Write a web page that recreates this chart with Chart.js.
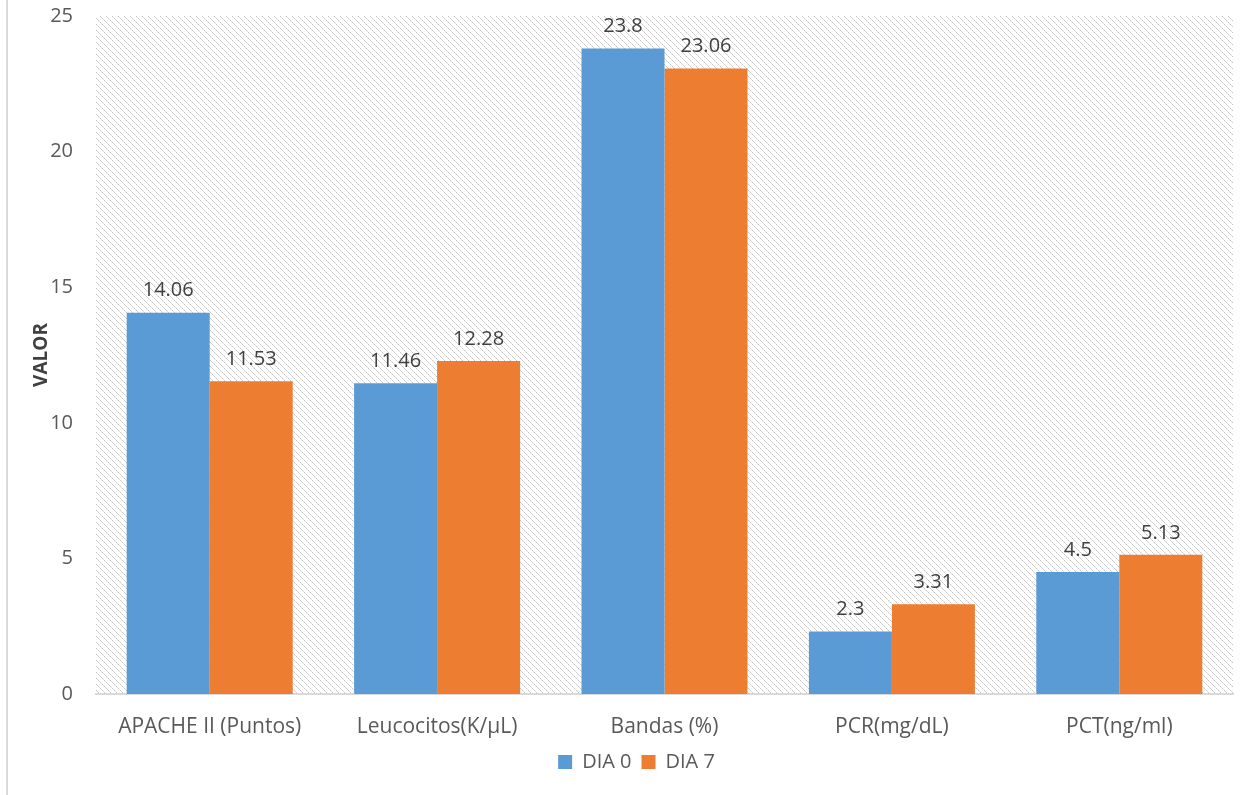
<!DOCTYPE html>
<html>
<head>
<meta charset="utf-8">
<script src="https://cdn.jsdelivr.net/npm/chart.js@4.4.1/dist/chart.umd.min.js"></script>
<style>
  html, body { margin: 0; padding: 0; background: #ffffff; }
  #wrap { position: relative; width: 1250px; height: 795px; }
  canvas { display: block; }
</style>
</head>
<body>
<div id="wrap"><canvas id="chart" width="1250" height="795"></canvas></div>
<script>
const categories = ['APACHE II (Puntos)', 'Leucocitos(K/µL)', 'Bandas (%)', 'PCR(mg/dL)', 'PCT(ng/ml)'];
const dia0 = [14.06, 11.46, 23.8, 2.3, 4.5];
const dia7 = [11.53, 12.28, 23.06, 3.31, 5.13];
const seriesNames = ['DIA 0', 'DIA 7'];
const yTicks = [0, 5, 10, 15, 20, 25];

const FONT = "'Open Sans', 'DejaVu Sans', sans-serif";
const TEXT = '#595959';

// Diagonal hatch used as the plot background
function makeHatch() {
  const size = 6;
  const c = document.createElement('canvas');
  c.width = size; c.height = size;
  const g = c.getContext('2d');
  for (let i = 0; i < size; i++) {
    g.fillStyle = (i % 2 === 0) ? '#c6c6c6' : '#dadada';
    g.fillRect(i, i, 1, 1);
  }
  return g.createPattern(c, 'repeat');
}

const hatchBackground = {
  id: 'hatchBackground',
  beforeDraw(chart) {
    const { ctx, chartArea: a } = chart;
    ctx.save();
    ctx.fillStyle = makeHatch();
    ctx.fillRect(a.left, a.top, a.right - a.left, a.bottom - a.top);
    ctx.restore();
  }
};

// Thin frame line along the left edge of the canvas
const leftEdge = {
  id: 'leftEdge',
  afterDraw(chart) {
    const ctx = chart.ctx;
    ctx.save();
    ctx.fillStyle = '#d9d9d9';
    ctx.fillRect(6, 0, 2, chart.height);
    ctx.restore();
  }
};

// Value labels above each bar
const valueLabels = {
  id: 'valueLabels',
  afterDatasetsDraw(chart) {
    const ctx = chart.ctx;
    ctx.save();
    ctx.font = '20px ' + FONT;
    ctx.fillStyle = '#404040';
    ctx.textAlign = 'center';
    ctx.textBaseline = 'bottom';
    chart.data.datasets.forEach((ds, i) => {
      chart.getDatasetMeta(i).data.forEach((bar, j) => {
        ctx.fillText(String(ds.data[j]), bar.x, bar.y - 12);
      });
    });
    ctx.restore();
  }
};

new Chart(document.getElementById('chart'), {
  type: 'bar',
  data: {
    labels: categories,
    datasets: [
      { label: seriesNames[0], data: dia0, backgroundColor: '#5b9bd5', borderWidth: 0 },
      { label: seriesNames[1], data: dia7, backgroundColor: '#ed7d31', borderWidth: 0 }
    ]
  },
  options: {
    responsive: false,
    animation: false,
    devicePixelRatio: 1,
    layout: { padding: { top: 16, right: 17, left: 40, bottom: 13 } },
    datasets: { bar: { categoryPercentage: 0.73, barPercentage: 1.0 } },
    plugins: {
      legend: {
        position: 'bottom',
        labels: {
          font: { family: FONT, size: 20 },
          color: TEXT,
          boxWidth: 14,
          boxHeight: 14,
          padding: 10
        }
      },
      tooltip: { enabled: false }
    },
    scales: {
      x: {
        grid: { display: false, drawTicks: false },
        border: { display: true, color: '#d9d9d9', width: 2 },
        ticks: { font: { family: FONT, size: 21 }, color: TEXT, padding: 20 },
        afterFit(s) { s.height = 48; }
      },
      y: {
        min: 0, max: 25,
        afterBuildTicks(s) { s.ticks = yTicks.map(v => ({ value: v })); },
        grid: { display: false, drawTicks: false },
        border: { display: false },
        ticks: { font: { family: FONT, size: 20 }, color: TEXT, padding: 23 },
        title: {
          display: true,
          text: 'VALOR',
          font: { family: FONT, size: 19, weight: 'bold' },
          color: '#404040',
          padding: { top: -10, bottom: 0 }
        },
        afterFit(s) { s.width = 56; s.paddingTop = 0; s.paddingBottom = 0; }
      }
    }
  },
  plugins: [hatchBackground, valueLabels, leftEdge]
});
</script>
</body>
</html>
